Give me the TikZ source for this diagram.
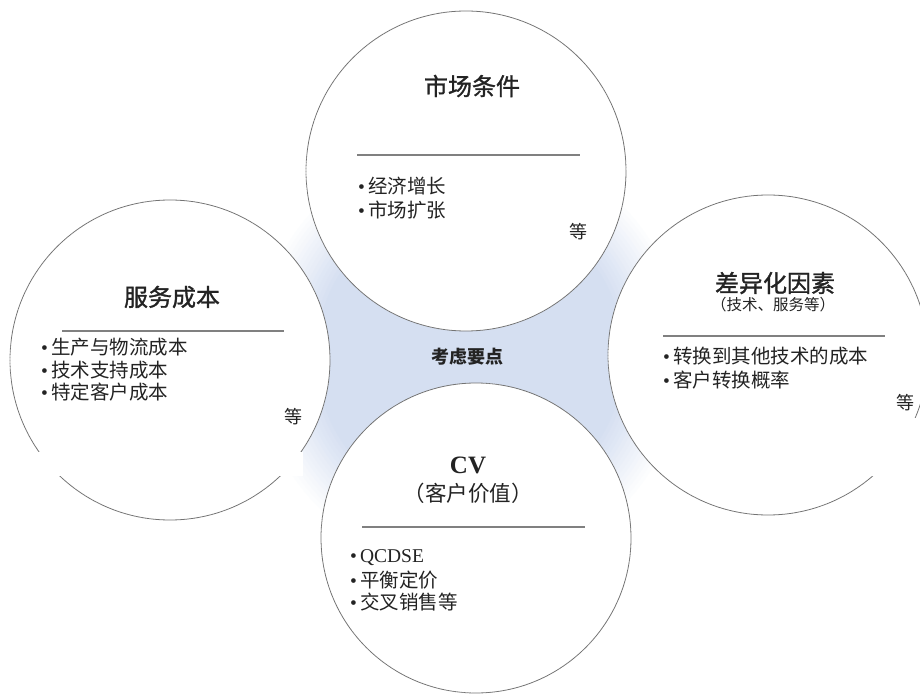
\documentclass[tikz,border=0pt]{standalone}
\usepackage{fontspec}
\setmainfont{Liberation Serif}
\newfontfamily\cjk{Noto Sans CJK SC}
\newfontfamily\cjkhead[FakeBold=1.2]{Noto Sans CJK SC}
\definecolor{glowblue}{RGB}{213,223,241}
\definecolor{txt}{RGB}{35,35,35}
\begin{document}
\begin{tikzpicture}[x=1pt,y=-1pt,
  ring/.style={circle, draw=black!55, line width=0.8pt, fill=white, dash pattern=on 1.2pt off 0.3pt, minimum size=#1, inner sep=0},
  divider/.style={draw=black!50, line width=1.6pt},
  ctitle/.style={font=\cjkhead\fontsize{24}{27}\selectfont, text=txt, inner sep=0},
  csub/.style={font=\cjk\fontsize{15.5}{18}\selectfont, text=txt, inner sep=0},
  item/.style={font=\cjk\fontsize{19.5}{22}\selectfont, text=txt, inner sep=0, anchor=west, text height=17pt, text depth=2.4pt},
  etc/.style={font=\cjk\fontsize{18}{22}\selectfont, text=txt, inner sep=0},
  patch/.style={fill=white, draw=none}
]
\useasboundingbox (0,0) rectangle (920,700);
% glow
\foreach \r in {218,214,...,146}{
  \pgfmathtruncatemacro\p{min(100,max(0,100*(218-\r)/64))}
  \fill[glowblue!\p!white] (470,356) circle[radius=\r pt];
}
% circles
\node[ring=320pt] (ctop) at (466,171) {};
\node[ring=320pt] (cleft) at (170,360) {};
\node[ring=320pt] (cright) at (768,355) {};
\node[ring=310pt] (cbot) at (476,538) {};
% white patches
\fill[patch] (30,452) rectangle (303,476);
\fill[patch] (872,418) rectangle (920,476);
% centre label
\node[font=\cjk\bfseries\fontsize{18}{22}\selectfont, text=txt, inner sep=0] (centre) at (467,357) {考虑要点};
% top circle
\node[ctitle] (t1) at (472,86) {市场条件};
\draw[divider] (357,155) -- (580,155);
\node[item] (t2) at (358,186) {{\rmfamily\textbullet}\hspace{3pt}经济增长};
\node[item] (t3) at (358,210) {{\rmfamily\textbullet}\hspace{3pt}市场扩张};
\node[etc] (t4) at (578,232) {等};
% left circle
\node[ctitle] (l1) at (172,297) {服务成本};
\draw[divider] (62,331) -- (284,331);
\node[item] (l2) at (41,347) {{\rmfamily\textbullet}\hspace{3pt}生产与物流成本};
\node[item] (l3) at (41,370) {{\rmfamily\textbullet}\hspace{3pt}技术支持成本};
\node[item] (l4) at (41,392) {{\rmfamily\textbullet}\hspace{3pt}特定客户成本};
\node[etc] (l5) at (293,417) {等};
% right circle
\node[ctitle] (r1) at (775,283) {差异化因素};
\node[csub] (r2) at (773,305) {（技术、服务等）};
\draw[divider] (663,336) -- (885,336);
\node[item] (r3) at (663,356) {{\rmfamily\textbullet}\hspace{3pt}转换到其他技术的成本};
\node[item] (r4) at (663,380) {{\rmfamily\textbullet}\hspace{3pt}客户转换概率};
\node[etc] (r5) at (905,403) {等};
% bottom circle
\node[font=\bfseries\fontsize{25}{28}\selectfont, text=txt, inner sep=0] (b1) at (468,465) {CV};
\node[font=\cjk\fontsize{21.5}{24}\selectfont, text=txt, inner sep=0] (b2) at (468,493) {（客户价值）};
\draw[divider] (362,527) -- (585,527);
\node[item] (b3) at (350,555) {{\rmfamily\textbullet\hspace{3pt}QCDSE}};
\node[item] (b4) at (350,580) {{\rmfamily\textbullet}\hspace{3pt}平衡定价};
\node[item] (b5) at (350,602) {{\rmfamily\textbullet}\hspace{3pt}交叉销售等};
\end{tikzpicture}
\end{document}
